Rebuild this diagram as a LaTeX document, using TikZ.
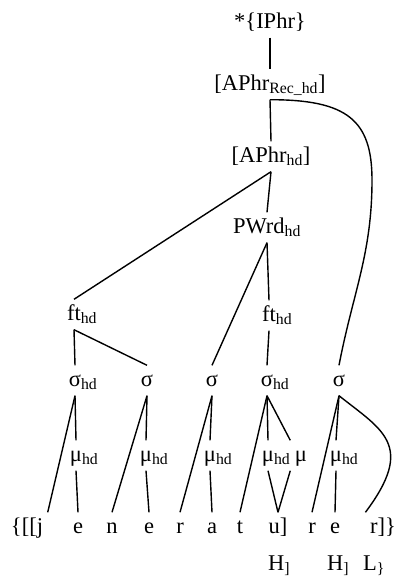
\documentclass[tikz,border=0pt]{standalone}
\usepackage{fontspec}
\setmainfont{Liberation Serif}
\newcommand{\hd}{\rlap{\textsubscript{hd}}}

\begin{document}
\begin{tikzpicture}[x=1pt,y=-1pt,line width=1.4pt,
    lbl/.style={anchor=base,text height=16pt,text depth=5pt,inner sep=4pt,font=\fontsize{22.5}{27}\selectfont}]
  \useasboundingbox (0,0) rectangle (397,581);

  % prosodic levels
  \node[lbl] (iphr) at (270,28) {*\{IPhr\}};
  \node[lbl] (aphrrec) at (270,90) {[APhr\textsubscript{Rec\_hd}]};
  \node[lbl] (aphrhd) at (271,162) {[APhr\textsubscript{hd}]};
  \node[lbl] (pwrd) at (267,233) {PWrd\textsubscript{hd}};
  \node[lbl] (ft1) at (74,320) {ft\hd};
  \node[lbl] (ft2) at (269,321) {ft\hd};

  % syllables
  \node[lbl] (s1) at (75,386) {σ\hd};
  \node[lbl] (s2) at (147,386) {σ};
  \node[lbl] (s3) at (212,386) {σ};
  \node[lbl] (s4) at (267,386) {σ\hd};
  \node[lbl] (s5) at (339,386) {σ};

  % moras
  \node[lbl] (m1) at (76,461) {μ\hd};
  \node[lbl] (m2) at (146,461) {μ\hd};
  \node[lbl] (m3) at (210,461) {μ\hd};
  \node[lbl] (m4) at (268,461) {μ\hd};
  \node[lbl] (m5) at (301,461) {μ};
  \node[lbl] (m6) at (336,461) {μ\hd};

  % segments
  \node[lbl] (j) at (27,533) {\{[[j};
  \node[lbl] (e1) at (78,533) {e};
  \node[lbl] (n) at (112,533) {n};
  \node[lbl] (e2) at (149,533) {e};
  \node[lbl] (r1) at (180,533) {r};
  \node[lbl] (a) at (212,533) {a};
  \node[lbl] (t) at (240,533) {t};
  \node[lbl] (u) at (278,533) {u]};
  \node[lbl] (r2) at (312,533) {r};
  \node[lbl] (e3) at (335,533) {e};
  \node[lbl] (r3) at (383,533) {r]\}};

  % tones
  \node[lbl] (h1) at (279,570) {H\textsubscript{]}};
  \node[lbl] (h2) at (338,570) {H\textsubscript{]}};
  \node[lbl] (l1) at (374,570) {L\textsubscript{\}}};

  \coordinate (turn) at (372,180);

  \path
    (iphr.south) edge (aphrrec.north)
    (aphrrec.south) edge (aphrhd.north)
    (aphrhd.south) edge (ft1.north)
    (aphrhd.south) edge (pwrd.north)
    (pwrd.south) edge (s3.north)
    (pwrd.south) edge (ft2.north)
    (ft1.south) edge (s1.north)
    (ft1.south) edge (s2.north)
    (ft2.south) edge (s4.north)

    (s1.south) edge (j.north east)
    (s1.south) edge (m1.north)
    (m1.south) edge (e1.north)
    (s2.south) edge (n.north)
    (s2.south) edge (m2.north)
    (m2.south) edge (e2.north)
    (s3.south) edge (r1.north)
    (s3.south) edge (m3.north)
    (m3.south) edge (a.north)
    (s4.south) edge (t.north)
    (s4.south) edge (m4.north)
    (s4.south) edge (m5.north west)
    (m4.south) edge (u.north)
    (m5.south west) edge (u.north)
    (s5.south) edge (r2.north)
    (s5.south) edge (m6.north)
    (m6.south) edge (e3.north);

  % the recursive phrase links down to the last syllable
  \draw (aphrrec.south) .. controls +(77,0) and +(0,-60) .. (turn)
    .. controls +(0,74) and +(14,-73) .. (s5.north);
  \draw (s5.south) .. controls (382,430) and (416,445) .. (r3.north west);
\end{tikzpicture}
\end{document}
